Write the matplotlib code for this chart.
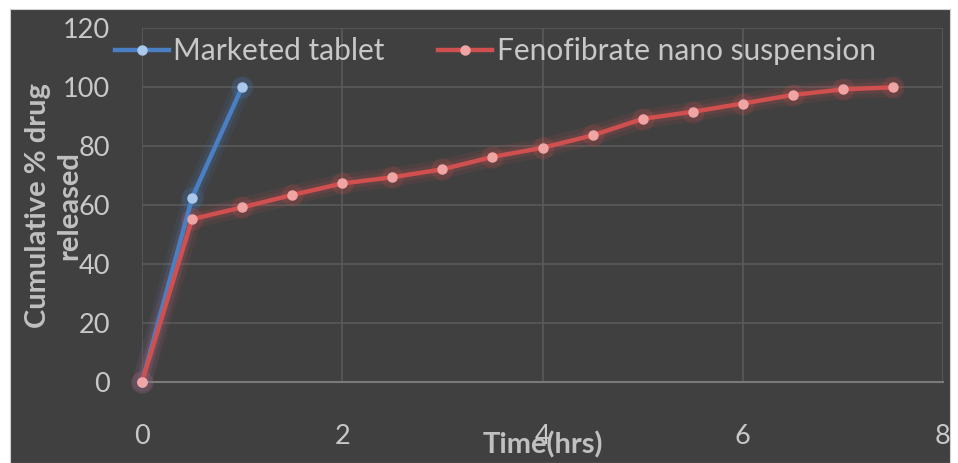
import matplotlib
matplotlib.use("Agg")
import matplotlib.pyplot as plt

# Data
time_marketed = [0, 0.5, 1.0]
release_marketed = [0, 62.4, 100]
time_nano = [0, 0.5, 1.0, 1.5, 2.0, 2.5, 3.0, 3.5, 4.0, 4.5, 5.0, 5.5, 6.0, 6.5, 7.0, 7.5]
release_nano = [0, 55.2, 59.2, 63.4, 67.3, 69.4, 72.1, 76.3, 79.4, 83.6, 89.2, 91.6, 94.4, 97.3, 99.2, 99.9]
x_ticks = [0, 2, 4, 6, 8]
y_ticks = [0, 20, 40, 60, 80, 100, 120]
series_names = ["Marketed tablet", "Fenofibrate nano suspension"]

plt.rcParams['font.family'] = ['Lato', 'DejaVu Sans']

W, H = 958, 463
fig = plt.figure(figsize=(W / 100, H / 100), dpi=100)
fig.patch.set_facecolor('white')
bg = '#404040'

bgax = fig.add_axes([10 / W, 0, (950 - 10) / W, (463 - 9) / H], zorder=-5)
bgax.set_facecolor(bg)
bgax.set_xticks([])
bgax.set_yticks([])
for s in bgax.spines.values():
    s.set_color('#d0d0d0')

ax = fig.add_axes([142 / W, (463 - 382) / H, (943 - 142) / W, (382 - 28) / H])
ax.set_facecolor(bg)
ax.set_xlim(0, 8)
ax.set_ylim(0, 120)
ax.set_xticks(x_ticks)
ax.set_yticks(y_ticks)
ax.grid(True, color='#5a5a5a', linewidth=1.2)
ax.set_axisbelow(True)
for s in ['top', 'right', 'left']:
    ax.spines[s].set_visible(False)
ax.spines['bottom'].set_color('#7a7a7a')
ax.spines['bottom'].set_linewidth(1.5)
ax.tick_params(axis='both', length=0, colors='#c8c8c8', labelsize=19.5)
ax.tick_params(axis='y', pad=23)
ax.tick_params(axis='x', pad=30)

blue, blue_m = '#4a7fc4', '#a9c8ec'
red, red_m = '#d04f4f', '#f0a5a5'

# glow
for t, v, c in [(time_marketed, release_marketed, blue), (time_nano, release_nano, red)]:
    ax.plot(t, v, color=c, linewidth=14, alpha=0.10, solid_capstyle='round', zorder=2, clip_on=False)
    ax.plot(t, v, color=c, linewidth=8, alpha=0.15, solid_capstyle='round', zorder=2, clip_on=False)
    ax.plot(t, v, linestyle='none', marker='o', markersize=16, color=c, alpha=0.18,
            markeredgewidth=0, zorder=2, clip_on=False)

ax.plot(time_marketed, release_marketed, color=blue, linewidth=3.2, marker='o',
        markersize=6.5, markerfacecolor=blue_m, markeredgecolor=blue_m,
        label=series_names[0], zorder=3, clip_on=False)
ax.plot(time_nano, release_nano, color=red, linewidth=3.2, marker='o',
        markersize=6.5, markerfacecolor=red_m, markeredgecolor=red_m,
        label=series_names[1], zorder=4, clip_on=False)

leg = ax.legend(loc='center', bbox_to_anchor=(0.441, 0.935), ncol=2, frameon=False,
                fontsize=21.5, labelcolor='#c8c8c8', handlelength=1.8, handletextpad=0.15,
                columnspacing=1.8, borderaxespad=0)

fig.text(543 / W, 1 - 445 / H, 'Time(hrs)', fontsize=21, fontweight='bold',
         color='#c0c0c0', ha='center', va='center')
fig.text(54 / W, 1 - 206 / H, 'Cumulative % drug\nreleased', fontsize=21,
         fontweight='bold', color='#c0c0c0', ha='center', va='center',
         rotation=90, linespacing=1.25)

fig.savefig('out.png', dpi=100, facecolor='white')
